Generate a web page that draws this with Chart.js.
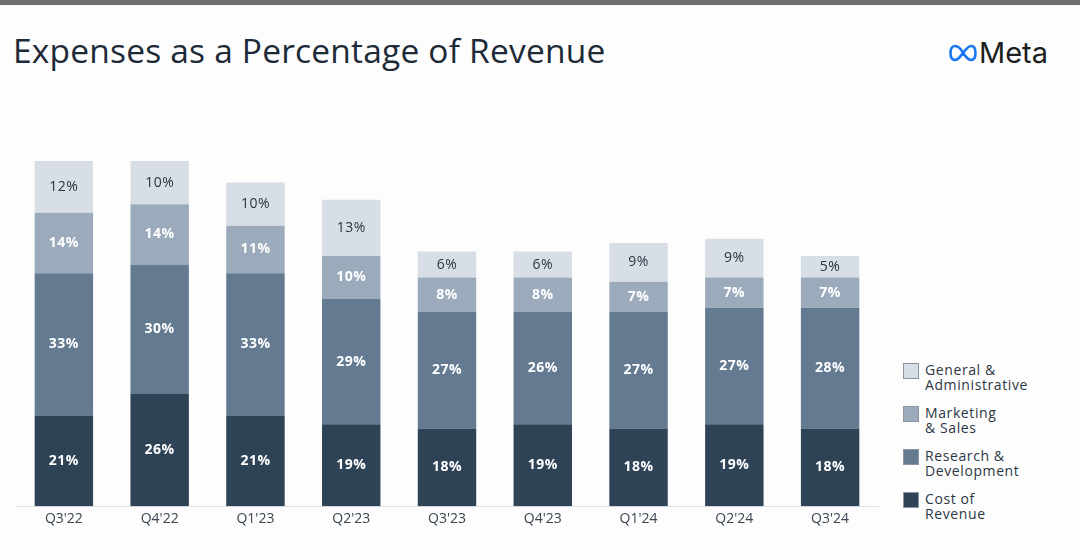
<!DOCTYPE html>
<html>
<head>
<meta charset="utf-8">
<script src="https://cdn.jsdelivr.net/npm/chart.js@4.4.0/dist/chart.umd.min.js"></script>
<style>
  body { margin: 0; width: 1080px; height: 554px; background: #fdfdfd; position: relative; overflow: hidden; font-family: "Open Sans", "DejaVu Sans", sans-serif; }
  #topbar { position: absolute; left: 0; top: 0; width: 1080px; height: 5px; background: #6e6e70; }
  #title { position: absolute; left: 13px; top: 27px; font-size: 33.5px; color: #1d2a38; letter-spacing: 0.2px; }
  #logo { position: absolute; left: 949px; top: 35px; display: flex; align-items: center; }
  #logo span { font-size: 29px; color: #1c1e21; margin-left: 2px; font-family: "Inter", "Open Sans", sans-serif; }
  #wrap { position: absolute; left: 0; top: 100px; width: 890px; height: 431px; }
  #legend { position: absolute; left: 903px; top: 362px; }
  .item { display: flex; align-items: flex-start; height: 43px; }
  .sw { width: 16px; height: 16px; border: 1px solid #8a96a3; margin-top: 1px; margin-right: 6px; box-sizing: border-box; }
  .txt { font-size: 14px; line-height: 15px; color: #2c3744; letter-spacing: 0.6px; }
</style>
</head>
<body>
<div id="topbar"></div>
<div id="title">Expenses as a Percentage of Revenue</div>
<div id="logo">
  <svg width="28" height="18" viewBox="0 0 28 18">
    <path d="M14 9 C11 3 8 2 6 2 C3 2 1.5 5 1.5 9 C1.5 13 3 16 6 16 C9 16 11 13 14 9 C17 5 19 2 22 2 C25 2 26.5 5 26.5 9 C26.5 13 25 16 22 16 C19 16 17 13 14 9 Z" fill="none" stroke="#1877f2" stroke-width="2.6"/>
  </svg>
  <span>Meta</span>
</div>
<div id="wrap"><canvas id="chart"></canvas></div>
<div id="legend"></div>

<script>
'use strict';

// quarters on the x axis
const quarters = ["Q3'22", "Q4'22", "Q1'23", "Q2'23", "Q3'23", "Q4'23", "Q1'24", "Q2'24", "Q3'24"];

// expense lines, % of revenue
const costOfRevenue = [21, 26, 21, 19, 18, 19, 18, 19, 18];
const researchDev   = [33, 30, 33, 29, 27, 26, 27, 27, 28];
const marketing     = [14, 14, 11, 10, 8, 8, 7, 7, 7];
const generalAdmin  = [12, 10, 10, 13, 6, 6, 9, 9, 5];

const seriesNames = [
    ['Cost of', 'Revenue'],
    ['Research &', 'Development'],
    ['Marketing', '& Sales'],
    ['General &', 'Administrative']
];
const seriesColors = ['#2f4356', '#637a90', '#9babbc', '#d8dee5'];
const labelColors = ['#ffffff', '#ffffff', '#ffffff', '#2a3541'];

// write the % value in the middle of every segment
const segmentLabels = {
    id: 'segmentLabels',
    afterDatasetsDraw(chart) {
        let ctx = chart.ctx;
        ctx.save();
        ctx.textAlign = 'center';
        ctx.textBaseline = 'middle';
        chart.data.datasets.forEach(function(ds, i) {
            let meta = chart.getDatasetMeta(i);
            ctx.fillStyle = labelColors[i];
            ctx.font = (i === 3 ? '500 ' : '700 ') + '14px "Open Sans", sans-serif';
            if ('letterSpacing' in ctx) ctx.letterSpacing = '0.5px';
            meta.data.forEach(function(bar, j) {
                let mid = (bar.y + bar.base) / 2;
                ctx.fillText(ds.data[j] + '%', bar.x, mid);
            });
        });
        ctx.restore();
    }
};

let datasets = [costOfRevenue, researchDev, marketing, generalAdmin].map(function(d, i) {
    return {
        label: seriesNames[i].join(' '),
        data: d,
        backgroundColor: seriesColors[i],
        borderWidth: 0,
        categoryPercentage: 1,
        barPercentage: 0.61
    };
});

let ctx = document.getElementById('chart').getContext('2d');
new Chart(ctx, {
    type: 'bar',
    data: { labels: quarters, datasets: datasets },
    options: {
        responsive: true,
        maintainAspectRatio: false,
        animation: false,
        layout: { padding: { top: 61, left: 16, right: 12, bottom: 0 } },
        plugins: { legend: { display: false }, tooltip: { enabled: false } },
        scales: {
            x: {
                stacked: true,
                grid: { display: false, drawTicks: false },
                border: { display: true, color: '#dfe3e8', width: 1 },
                ticks: { color: '#3a4552', font: { size: 14, family: '"Open Sans", sans-serif' }, padding: 4 }
            },
            y: {
                stacked: true,
                display: false,
                min: 0,
                max: 80
            }
        }
    },
    plugins: [segmentLabels]
});

// legend on the right, top entry first
let legend = document.getElementById('legend');
for (let i = seriesNames.length - 1; i >= 0; i--) {
    let item = document.createElement('div');
    item.className = 'item';
    item.innerHTML = '<div class="sw" style="background:' + seriesColors[i] + '"></div>' +
        '<div class="txt">' + seriesNames[i][0] + '<br>' + seriesNames[i][1] + '</div>';
    legend.appendChild(item);
}
</script>
</body>
</html>
